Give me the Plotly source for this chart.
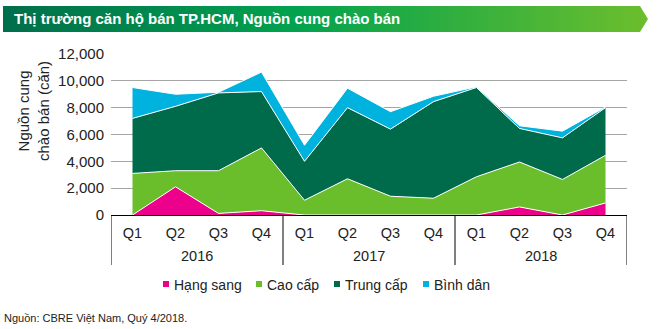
import base64
import plotly.graph_objects as go

years = ["2016", "2017", "2018"]
quarters = ["Q1", "Q2", "Q3", "Q4"]

hang_sang = [0, 2100, 120, 320, 0, 0, 30, 50, 0, 600, 0, 900]
cao_cap = [3100, 1200, 3180, 4680, 1100, 2700, 1370, 1200, 2850, 3350, 2650, 3550]
trung_cap = [4100, 4800, 5800, 4200, 2900, 5300, 5000, 7200, 6650, 2500, 3100, 3550]
binh_dan = [2300, 900, 50, 1450, 1200, 1450, 1300, 400, 50, 200, 500, 50]

series = [
    ("Hạng sang", hang_sang, "#EC008C"),
    ("Cao cấp", cao_cap, "#6ABD2B"),
    ("Trung cấp", trung_cap, "#006B4A"),
    ("Bình dân", binh_dan, "#00B2DE"),
]

W, H = 662, 329
L, R, T, B = 111, 35, 54, 114
pw, ph = W - L - R, H - T - B

def px_x(x):
    return (x - L) / pw

def px_y(y):
    return (H - B - y) / ph

nq = len(quarters)
xs = list(range(nq * len(years)))
qlabels = quarters * len(years)
fam = "Liberation Sans, Arial"

fig = go.Figure()
for name, vals, col in series:
    fig.add_trace(go.Scatter(
        x=xs, y=vals, name=name, mode="lines",
        stackgroup="one", line=dict(color="white", width=1),
        fillcolor=col, showlegend=False, hoverinfo="skip",
    ))

# compact legend (marker square + label) below the axis
legend_marker_x = [166, 259, 337, 426]
for (name, vals, col), mx in zip(series, legend_marker_x):
    fig.add_shape(
        type="rect", xref="paper", yref="paper",
        x0=px_x(mx - 3), x1=px_x(mx + 3), y0=px_y(281), y1=px_y(287),
        fillcolor=col, line=dict(width=0),
    )
    fig.add_annotation(
        text=name, xref="paper", yref="paper", x=px_x(mx + 6), y=px_y(285),
        xanchor="left", yanchor="middle", showarrow=False,
        font=dict(family=fam, size=14, color="#222"),
    )

# year group labels and dividers
for i, yr in enumerate(years):
    fig.add_annotation(
        text=yr, xref="x", yref="paper", x=i * nq + (nq - 1) / 2, y=px_y(256),
        xanchor="center", yanchor="middle", showarrow=False,
        font=dict(family=fam, size=14.5, color="#222"),
    )
for i in range(len(years) + 1):
    fig.add_shape(
        type="line", xref="x", yref="paper", x0=i * nq - 0.5, x1=i * nq - 0.5,
        y0=0, y1=px_y(265), line=dict(color="black", width=1),
    )

svg = (
    '<svg xmlns="http://www.w3.org/2000/svg" width="645" height="26" viewBox="0 0 645 26" preserveAspectRatio="none">'
    '<defs><linearGradient id="g" x1="0" y1="0" x2="1" y2="0">'
    '<stop offset="0" stop-color="#006E4B"/><stop offset="0.45" stop-color="#00A24F"/>'
    '<stop offset="1" stop-color="#6CBE2C"/></linearGradient></defs>'
    '<polygon points="0,0 637,0 645,13 637,26 0,26" fill="url(#g)"/></svg>'
)
src = "data:image/svg+xml;base64," + base64.b64encode(svg.encode()).decode()
fig.add_layout_image(dict(
    source=src, xref="paper", yref="paper",
    x=px_x(3), y=px_y(6), sizex=px_x(648) - px_x(3), sizey=px_y(6) - px_y(32),
    xanchor="left", yanchor="top", sizing="stretch", layer="above",
))

fig.add_annotation(
    text="<b>Thị trường căn hộ bán TP.HCM, Nguồn cung chào bán</b>",
    xref="paper", yref="paper", x=px_x(12), y=px_y(19),
    xanchor="left", yanchor="middle", showarrow=False,
    font=dict(family=fam, size=15, color="white"),
)
fig.add_annotation(
    text="Nguồn cung<br>chào bán (căn)",
    xref="paper", yref="paper", x=px_x(33), y=px_y(111),
    xanchor="center", yanchor="middle", showarrow=False, textangle=-90,
    font=dict(family=fam, size=15, color="#222"),
)
fig.add_annotation(
    text="Nguồn: CBRE Việt Nam, Quý 4/2018.",
    xref="paper", yref="paper", x=px_x(2), y=px_y(318),
    xanchor="left", yanchor="middle", showarrow=False,
    font=dict(family=fam, size=11, color="#222"),
)

fig.update_layout(
    width=W, height=H,
    margin=dict(l=L, r=R, t=T, b=B),
    paper_bgcolor="white", plot_bgcolor="white",
    font=dict(family=fam, size=14, color="#222"),
    showlegend=False,
    xaxis=dict(
        range=[-0.5, len(xs) - 0.5], tickvals=xs, ticktext=qlabels,
        showline=True, linecolor="black", linewidth=1,
        showgrid=False, zeroline=False, ticks="", ticklabelstandoff=5,
        tickfont=dict(size=14.5),
    ),
    yaxis=dict(
        range=[0, 12000], tickvals=[0, 2000, 4000, 6000, 8000, 10000, 12000],
        tickformat=",d", showgrid=True, gridcolor="#A6A6A6", gridwidth=1,
        zeroline=False, showline=False, ticks="", tickfont=dict(size=15),
        ticklabelstandoff=6,
    ),
)

fig.write_html("out.html")
